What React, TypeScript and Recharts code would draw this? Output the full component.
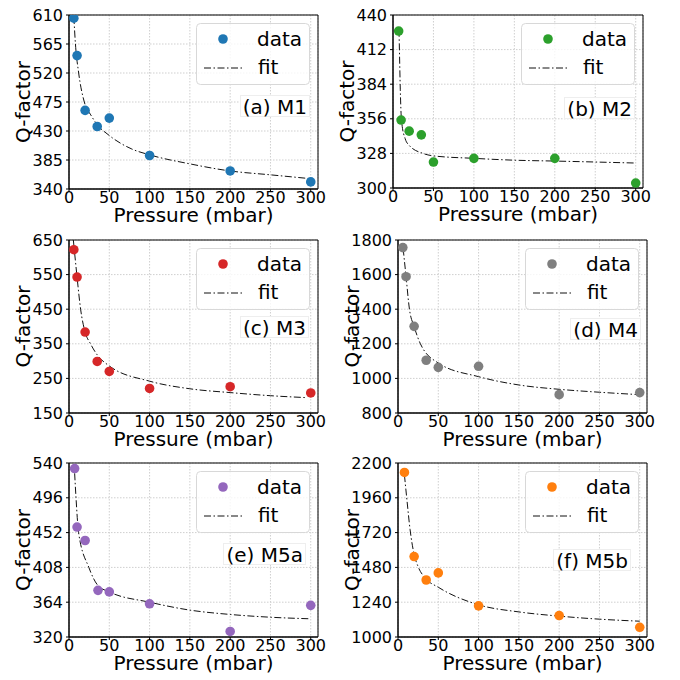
import {
  CartesianGrid,
  ComposedChart,
  Line,
  ReferenceArea,
  Scatter,
  XAxis,
  YAxis,
} from "recharts"

const FONT = "DejaVu Sans, Verdana, sans-serif"

const pressureTicks = [0, 50, 100, 150, 200, 250, 300]

// (a) M1
const m1Pressure = [6, 10, 20, 35, 50, 100, 200, 300]
const m1Q = [605, 547, 462, 437, 450, 392, 368, 351]
const m1FitPressure = [6, 8, 12, 19, 27, 35, 50, 78, 100, 150, 200, 250, 300]
const m1FitQ = [607, 565, 520, 475, 455, 440, 423, 402, 393, 379, 368, 362, 356]
const m1Ticks = [340, 385, 430, 475, 520, 565, 610]

// (b) M2
const m2Pressure = [7, 10, 20, 35, 50, 100, 200, 300]
const m2Q = [427, 355, 346, 343, 321, 324, 324, 304]
const m2FitPressure = [7.4, 8, 9, 10, 11, 15, 20, 37, 50, 100, 150, 200, 300]
const m2FitQ = [428, 410, 380, 360, 352, 340, 334.5, 328, 326, 324, 322.5, 321.8, 320.2]
const m2Ticks = [300, 328, 356, 384, 412, 440]

// (c) M3
const m3Pressure = [6, 10, 20, 35, 50, 100, 200, 300]
const m3Q = [622, 543, 384, 299, 270, 221, 226, 208]
const m3FitPressure = [5.4, 10, 14.4, 20, 26.7, 35, 50, 100, 150, 200, 250, 294]
const m3FitQ = [650, 543, 450, 384, 350, 318, 286, 242, 220, 209, 200, 194.5]
const m3Ticks = [150, 250, 350, 450, 550, 650]

// (d) M4
const m4Pressure = [6, 10, 20, 35, 50, 100, 200, 300]
const m4Q = [1756, 1588, 1301, 1105, 1064, 1070, 906, 918]
const m4FitPressure = [6.4, 10, 14.2, 20, 27.8, 50, 100, 150, 200, 250, 300]
const m4FitQ = [1750, 1588, 1400, 1300, 1200, 1089, 1010, 962, 937, 920, 906]
const m4Ticks = [800, 1000, 1200, 1400, 1600, 1800]

// (e) M5a
const m5aPressure = [7, 10, 20, 36, 50, 100, 200, 300]
const m5aQ = [533, 459, 442, 379, 377, 362, 327, 360]
const m5aFitPressure = [7, 8.7, 11.9, 24.6, 36, 50, 100, 150, 200, 250, 300]
const m5aFitQ = [527, 496, 452, 408, 385, 377, 364, 354, 348.5, 345, 343]
const m5aTicks = [320, 364, 408, 452, 496, 540]

// (f) M5b
const m5bPressure = [8, 20, 35, 50, 100, 200, 300]
const m5bQ = [2135, 1555, 1393, 1442, 1215, 1148, 1067]
const m5bFitPressure = [8, 11, 15, 20, 25, 35, 50, 100, 150, 200, 250, 300]
const m5bFitQ = [2117, 1950, 1740, 1570, 1485, 1400, 1343, 1222, 1173, 1144, 1123, 1109]
const m5bTicks = [1000, 1240, 1480, 1720, 1960, 2200]

const toPoints = (xs: number[], ys: number[]) => xs.map((x, i) => ({ x, y: ys[i] }))

type PanelSpec = {
  label: string
  color: string
  points: { x: number; y: number }[]
  fit: { x: number; y: number }[]
  ticks: number[]
  plot: [number, number, number, number]
  note: [number, number]
}

const panels: PanelSpec[] = [
  {
    label: "(a) M1",
    color: "#1f77b4",
    points: toPoints(m1Pressure, m1Q),
    fit: toPoints(m1FitPressure, m1FitQ),
    ticks: m1Ticks,
    plot: [69, 15, 318, 189],
    note: [308, 106],
  },
  {
    label: "(b) M2",
    color: "#2ca02c",
    points: toPoints(m2Pressure, m2Q),
    fit: toPoints(m2FitPressure, m2FitQ),
    ticks: m2Ticks,
    plot: [393, 15, 643, 188],
    note: [633, 108],
  },
  {
    label: "(c) M3",
    color: "#d62728",
    points: toPoints(m3Pressure, m3Q),
    fit: toPoints(m3FitPressure, m3FitQ),
    ticks: m3Ticks,
    plot: [69, 240, 318, 413],
    note: [307, 327],
  },
  {
    label: "(d) M4",
    color: "#7f7f7f",
    points: toPoints(m4Pressure, m4Q),
    fit: toPoints(m4FitPressure, m4FitQ),
    ticks: m4Ticks,
    plot: [398, 240, 647, 413],
    note: [639, 329],
  },
  {
    label: "(e) M5a",
    color: "#9467bd",
    points: toPoints(m5aPressure, m5aQ),
    fit: toPoints(m5aFitPressure, m5aFitQ),
    ticks: m5aTicks,
    plot: [69, 463, 318, 637],
    note: [304, 554],
  },
  {
    label: "(f) M5b",
    color: "#ff7f0e",
    points: toPoints(m5bPressure, m5bQ),
    fit: toPoints(m5bFitPressure, m5bFitQ),
    ticks: m5bTicks,
    plot: [398, 463, 647, 637],
    note: [629, 560],
  },
]

const X_MAX = 309
const DASH = "7 2.5 1.5 2.5"
const tickStyle = { fill: "#000", fontSize: 16, fontFamily: FONT }

function Panel({ spec }: { spec: PanelSpec }) {
  const [pl, pt, pr, pb] = spec.plot
  const boxLeft = pl - 69
  const boxTop = pt - 15
  const width = pr - boxLeft + 8
  const height = pb - boxTop + 41
  const yMin = spec.ticks[0]
  const yMax = spec.ticks[spec.ticks.length - 1]
  const legendW = 114
  const legendLeft = pr - 8 - legendW - boxLeft
  const legendTop = pt + 8 - boxTop

  return (
    <div style={{ position: "absolute", left: boxLeft, top: boxTop, width, height }}>
      <ComposedChart
        width={width}
        height={height}
        margin={{ top: 15, right: 8, bottom: 5, left: 19 }}
      >
        <CartesianGrid stroke="#cfcfcf" strokeDasharray="1.5 1.5" />
        <XAxis
          dataKey="x"
          type="number"
          domain={[0, X_MAX]}
          ticks={pressureTicks}
          interval={0}
          height={36}
          tick={tickStyle}
          tickSize={3}
          tickMargin={0}
          tickLine={{ stroke: "#000" }}
          axisLine={{ stroke: "#000" }}
          label={{
            value: "Pressure (mbar)",
            position: "insideBottom",
            offset: 3,
            style: { fill: "#000", fontSize: 20, fontFamily: FONT },
          }}
        />
        <YAxis
          dataKey="y"
          type="number"
          domain={[yMin, yMax]}
          ticks={spec.ticks}
          interval={0}
          allowDataOverflow
          width={50}
          tick={tickStyle}
          tickSize={3}
          tickMargin={3}
          tickLine={{ stroke: "#000" }}
          axisLine={{ stroke: "#000" }}
          label={{
            value: "Q-factor",
            angle: -90,
            position: "insideLeft",
            offset: 4,
            style: { textAnchor: "middle", fill: "#000", fontSize: 20, fontFamily: FONT },
          }}
        />
        <ReferenceArea
          x1={0}
          x2={X_MAX}
          y1={yMin}
          y2={yMax}
          fill="none"
          stroke="#000"
          strokeWidth={1}
          ifOverflow="visible"
        />
        <Scatter
          data={spec.points}
          dataKey="y"
          fill={spec.color}
          isAnimationActive={false}
          shape={(p: any) => <circle cx={p.cx} cy={p.cy} r={4.8} fill={spec.color} />}
        />
        <Line
          data={spec.fit}
          dataKey="y"
          type="monotone"
          stroke="#111"
          strokeWidth={1}
          strokeDasharray={DASH}
          dot={false}
          activeDot={false}
          isAnimationActive={false}
        />
      </ComposedChart>

      <svg
        width={legendW}
        height={62}
        style={{ position: "absolute", left: legendLeft, top: legendTop }}
      >
        <rect x={0.5} y={0.5} width={legendW - 1} height={61} rx={4} fill="#fff" fillOpacity={0.8} stroke="#d8d8d8" />
        <circle cx={27} cy={16} r={4.8} fill={spec.color} />
        <text x={61} y={23} fontSize={20} fontFamily={FONT} fill="#000">data</text>
        <line x1={8} x2={46} y1={45} y2={45} stroke="#111" strokeWidth={1} strokeDasharray={DASH} />
        <text x={62} y={51} fontSize={20} fontFamily={FONT} fill="#000">fit</text>
      </svg>

      <div
        style={{
          position: "absolute",
          right: width - (spec.note[0] + 2 - boxLeft),
          top: spec.note[1] - 11 - boxTop,
          height: 22,
          lineHeight: "22px",
          padding: "0 2px",
          background: "#fff",
          border: "1px solid #eee",
          fontFamily: FONT,
          fontSize: 20,
          color: "#000",
          whiteSpace: "nowrap",
          boxSizing: "border-box",
        }}
      >
        {spec.label}
      </div>
    </div>
  )
}

export default function App() {
  return (
    <div style={{ position: "absolute", left: 0, top: 0, width: 680, height: 680, background: "#fff" }}>
      {panels.map((p) => (
        <Panel key={p.label} spec={p} />
      ))}
    </div>
  )
}
